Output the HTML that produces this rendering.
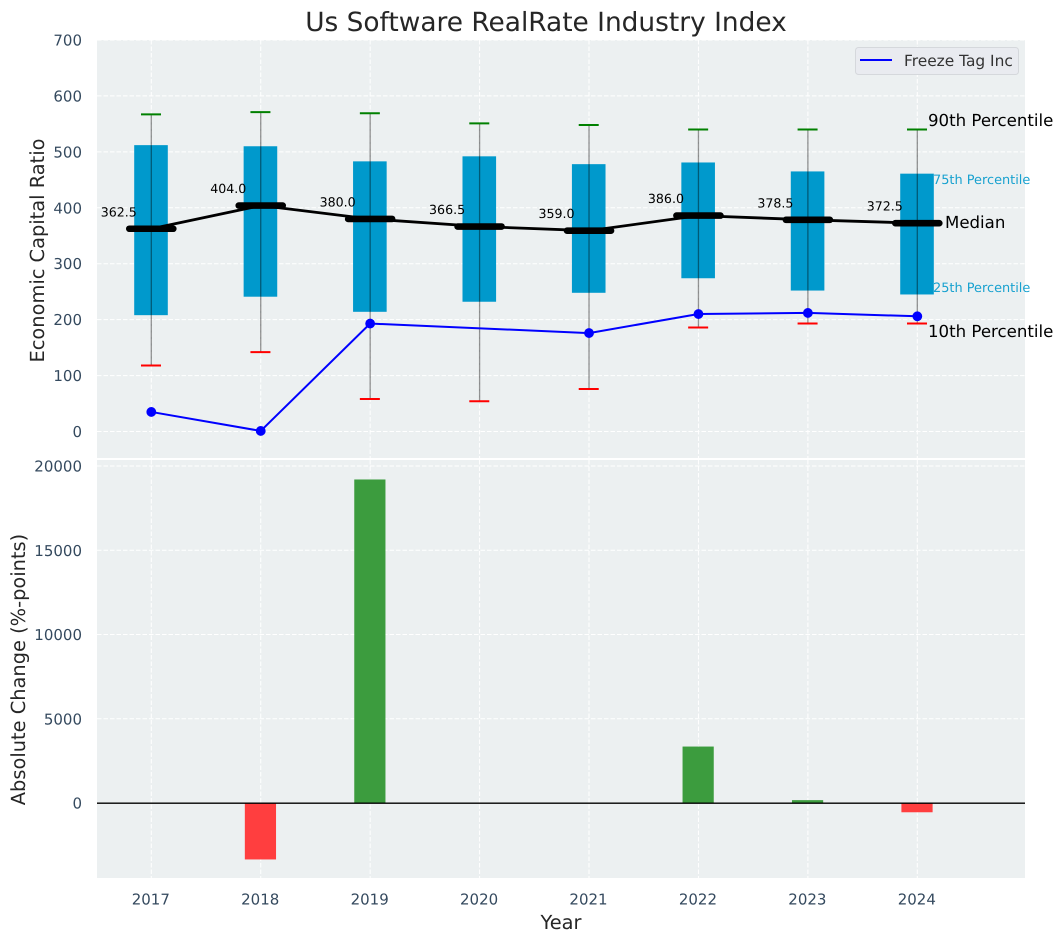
<!DOCTYPE html>
<html>
<head>
<meta charset="utf-8">
<title>Us Software RealRate Industry Index</title>
<style>
html,body{margin:0;padding:0;background:#fff;width:1063px;height:942px;overflow:hidden}
svg{display:block;font-family:"DejaVu Sans","Liberation Sans",sans-serif;text-rendering:geometricPrecision}
</style>
</head>
<body>
<svg id="chart" xmlns="http://www.w3.org/2000/svg" width="1063" height="942" viewBox="0 0 1063 942">
  <rect x="97" y="40" width="928" height="418" fill="#ecf0f1"/>
  <rect x="97" y="460" width="928" height="418" fill="#ecf0f1"/>
  <g id="grid"></g>
  <g id="topMarks"></g>
  <g id="bottomMarks"></g>
  <g id="ticks"></g>
  <text x="546" y="31" font-size="26.4" fill="#262626" text-anchor="middle">Us Software RealRate Industry Index</text>
  <text transform="translate(44,250.5) rotate(-90)" font-size="19.4" fill="#262626" text-anchor="middle">Economic Capital Ratio</text>
  <text transform="translate(25,669.5) rotate(-90)" font-size="19.4" fill="#262626" text-anchor="middle">Absolute Change (%-points)</text>
  <text x="561" y="929" font-size="19.4" fill="#262626" text-anchor="middle">Year</text>
  <g>
    <rect x="855.5" y="47.5" width="163" height="27" rx="3" fill="#e9ebf0" stroke="#d5d8dc"/>
    <line x1="860" y1="60" x2="892" y2="60" stroke="#0000ff" stroke-width="2"/>
    <text x="904" y="66" font-size="15.4" fill="#333">Freeze Tag Inc</text>
  </g>
  <text x="928" y="126" font-size="16.6" fill="#000">90th Percentile</text>
  <text x="933" y="184" font-size="12.9" fill="#0099cc" opacity="0.9">75th Percentile</text>
  <text x="945" y="228" font-size="16.6" fill="#000">Median</text>
  <text x="933" y="292" font-size="12.9" fill="#0099cc" opacity="0.9">25th Percentile</text>
  <text x="928" y="337" font-size="16.6" fill="#000">10th Percentile</text>
</svg>
<script>
const years = [2017, 2018, 2019, 2020, 2021, 2022, 2023, 2024];
const p90 = [567, 571, 569, 551, 548, 540, 540, 540];
const p75 = [512, 510, 483, 492, 478, 481, 465, 461];
const medians = [362.5, 404.0, 380.0, 366.5, 359.0, 386.0, 378.5, 372.5];
const p25 = [208, 241, 214, 232, 248, 274, 252, 245];
const p10 = [118, 142, 58, 54, 76, 186, 193, 193];
const freezeTag = [35, 1, 193, null, 176, 210, 212, 206];
const changes = [0, -3350, 19200, 0, 0, 3350, 170, -550];
const topTicks = [0, 100, 200, 300, 400, 500, 600, 700];
const bottomTicks = [0, 5000, 10000, 15000, 20000];

const NS = 'http://www.w3.org/2000/svg';
function xPos(year) { return 151.3 + (year - 2017) * 109.43; }
function yTop(v) { return 431.5 - v * 0.5593; }
function yBottom(v) { return 803 - v * 0.01685; }
function make(parent, tag, attrs) {
  const el = document.createElementNS(NS, tag);
  for (const k in attrs) el.setAttribute(k, attrs[k]);
  parent.appendChild(el);
  return el;
}
const grid = document.getElementById('grid');
const ticks = document.getElementById('ticks');
const topMarks = document.getElementById('topMarks');
const bottomMarks = document.getElementById('bottomMarks');
const gridStyle = { stroke: '#ffffff', 'stroke-width': 1, 'stroke-dasharray': '4.5 2' };

years.forEach(function (yr) {
  const x = xPos(yr);
  const g1 = make(grid, 'line', Object.assign({ x1: x, x2: x, y1: 40, y2: 458 }, gridStyle));
  
  
  const g2 = make(grid, 'line', Object.assign({ x1: x, x2: x, y1: 460, y2: 878 }, gridStyle));
  
  
  const t = make(ticks, 'text', { x: x - 0.5, y: 904.5, 'font-size': 15, fill: '#34495e', 'text-anchor': 'middle' });
  
  
  t.textContent = yr;
});
topTicks.forEach(function (v) {
  const y = yTop(v);
  const g = make(grid, 'line', Object.assign({ x1: 97, x2: 1025, y1: y, y2: y }, gridStyle));
  
  
  const t = make(ticks, 'text', { x: 82, y: y + 5.5, 'font-size': 15, fill: '#34495e', 'text-anchor': 'end' });
  
  
  t.textContent = v;
});
bottomTicks.forEach(function (v) {
  const y = yBottom(v);
  const g = make(grid, 'line', Object.assign({ x1: 97, x2: 1025, y1: y, y2: y }, gridStyle));
  
  
  const t = make(ticks, 'text', { x: 82, y: y + 5.5, 'font-size': 15, fill: '#34495e', 'text-anchor': 'end' });
  
  
  t.textContent = v;
});

// percentile boxes
years.forEach(function (yr, i) {
  const x = xPos(yr);
  const box = make(topMarks, 'rect', { x: x - 17.1, y: yTop(p75[i]), width: 33.6, height: yTop(p25[i]) - yTop(p75[i]), fill: '#0099cc' });
  
  
});
// median connecting line
const medianLine = make(topMarks, 'polyline', {
  points: years.map(function (yr, i) { return xPos(yr) + ',' + yTop(medians[i]); }).join(' '),
  fill: 'none', stroke: '#000', 'stroke-width': 2.8
});



years.forEach(function (yr, i) {
  const x = xPos(yr);
  const m = make(topMarks, 'line', { x1: x - 22, x2: x + 22, y1: yTop(medians[i]), y2: yTop(medians[i]), stroke: '#000', 'stroke-width': 6.6, 'stroke-linecap': 'round' });
  
  
  const w = make(topMarks, 'line', { x1: x, x2: x, y1: yTop(p90[i]), y2: yTop(p10[i]), stroke: '#000', 'stroke-opacity': 0.42, 'stroke-width': 1.3 });
  
  
  const hi = make(topMarks, 'line', { x1: x - 10.3, x2: x + 9.7, y1: yTop(p90[i]), y2: yTop(p90[i]), stroke: '#008000', 'stroke-width': 2 });
  
  
  const lo = make(topMarks, 'line', { x1: x - 10.3, x2: x + 9.7, y1: yTop(p10[i]), y2: yTop(p10[i]), stroke: '#ff0000', 'stroke-width': 2 });
  
  
  const lab = make(topMarks, 'text', { x: x - 32.5, y: yTop(medians[i]) - 12.5, 'font-size': 12.6, fill: '#000', 'text-anchor': 'middle' });
  
  
  lab.textContent = medians[i].toFixed(1);
});

// company series
const freezePts = [];
years.forEach(function (yr, i) {
  if (freezeTag[i] !== null) freezePts.push(xPos(yr) + ',' + yTop(freezeTag[i]));
});
const freezeLine = make(topMarks, 'polyline', { points: freezePts.join(' '), fill: 'none', stroke: '#0000ff', 'stroke-width': 2 });


years.forEach(function (yr, i) {
  if (freezeTag[i] === null) return;
  const c = make(topMarks, 'circle', { cx: xPos(yr), cy: yTop(freezeTag[i]), r: 4.9, fill: '#0000ff' });
  
  
});

// change bars
years.forEach(function (yr, i) {
  const v = changes[i];
  if (v === 0) return;
  const y0 = yBottom(0), y1 = yBottom(v);
  const b = make(bottomMarks, 'rect', {
    x: xPos(yr) - 15.9, y: Math.min(y0, y1), width: 31.2, height: Math.abs(y1 - y0),
    fill: v > 0 ? '#3c9c3e' : '#ff3e3f'
  });
  
  
});
const zero = make(bottomMarks, 'line', { x1: 97, x2: 1025, y1: yBottom(0) + 0.2, y2: yBottom(0) + 0.2, stroke: '#000', 'stroke-width': 1.4 });


</script>
</body>
</html>
